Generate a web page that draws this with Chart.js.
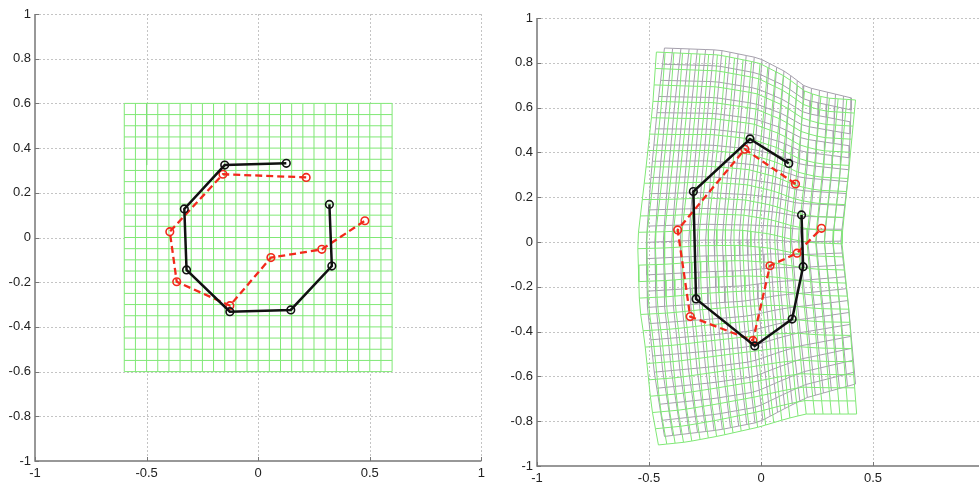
<!DOCTYPE html>
<html lang="en">
<head>
    <meta charset="UTF-8">
    <title>Warped grid comparison</title>
    <script src="https://cdn.jsdelivr.net/npm/chart.js"></script>
    <style>
        html, body { margin: 0; padding: 0; background: #fff; overflow: hidden; }
        #left { position: absolute; left: 0; top: 0; }
        #right { position: absolute; left: 490px; top: 0; }
    </style>
</head>
<body>
    <canvas id="left" width="490" height="486"></canvas>
    <canvas id="right" width="510" height="486"></canvas>
    <script>
        // axes
        const xTicks = [-1, -0.5, 0, 0.5, 1];
        const xTickLabels = ['-1', '-0.5', '0', '0.5', '1'];
        const yTicks = [-1, -0.8, -0.6, -0.4, -0.2, 0, 0.2, 0.4, 0.6, 0.8, 1];
        const yTickLabels = ['-1', '-0.8', '-0.6', '-0.4', '-0.2', '0', '0.2', '0.4', '0.6', '0.8', '1'];

        // left panel: regular mesh lines
        const meshLines = [-0.6, -0.55, -0.5, -0.45, -0.4, -0.35, -0.3, -0.25, -0.2, -0.15, -0.1, -0.05, 0,
                           0.05, 0.1, 0.15, 0.2, 0.25, 0.3, 0.35, 0.4, 0.45, 0.5, 0.55, 0.6];

        const leftBlackX = [0.126, -0.15, -0.331, -0.321, -0.127, 0.146, 0.33, 0.319];
        const leftBlackY = [0.332, 0.324, 0.128, -0.145, -0.332, -0.324, -0.128, 0.148];
        const leftRedX = [0.215, -0.158, -0.396, -0.365, -0.127, 0.057, 0.285, 0.478];
        const leftRedY = [0.269, 0.283, 0.026, -0.198, -0.305, -0.09, -0.053, 0.075];

        // right panel
        const rightBlackX = [0.124, -0.049, -0.302, -0.29, -0.028, 0.139, 0.188, 0.181];
        const rightBlackY = [0.351, 0.46, 0.225, -0.254, -0.464, -0.344, -0.11, 0.121];
        const rightRedX = [0.154, -0.072, -0.372, -0.316, -0.036, 0.04, 0.161, 0.27];
        const rightRedY = [0.259, 0.414, 0.054, -0.333, -0.44, -0.106, -0.05, 0.061];

        // outlines of the warped meshes
        const greenTop = [[-0.467, 0.848], [-0.187, 0.835], [-0.009, 0.799], [0.111, 0.737], [0.2, 0.67], [0.289, 0.643], [0.422, 0.634]];
        const greenBottom = [[-0.458, -0.906], [-0.333, -0.893], [-0.187, -0.866], [-0.009, -0.826], [0.111, -0.79], [0.2, -0.768], [0.427, -0.768]];
        const greenLeft = [[-0.467, 0.848], [-0.484, 0.603], [-0.516, 0.308], [-0.551, 0.009], [-0.542, -0.29], [-0.52, -0.438], [-0.489, -0.737], [-0.458, -0.906]];
        const greenRight = [[0.422, 0.634], [0.391, 0.308], [0.36, 0.009], [0.391, -0.29], [0.427, -0.768]];

        const grayTop = [[-0.431, 0.866], [-0.187, 0.857], [-0.009, 0.821], [0.111, 0.759], [0.2, 0.692], [0.404, 0.643]];
        const grayBottom = [[-0.431, -0.868], [-0.187, -0.839], [-0.009, -0.804], [0.111, -0.741], [0.2, -0.696], [0.422, -0.634]];
        const grayLeft = [[-0.431, 0.866], [-0.462, 0.603], [-0.49, 0.308], [-0.512, 0.009], [-0.507, -0.29], [-0.476, -0.585], [-0.431, -0.868]];
        const grayRight = [[0.404, 0.643], [0.391, 0.308], [0.356, 0.009], [0.391, -0.29], [0.422, -0.634]];

        const GREEN = 'rgb(128,232,118)';
        const GRAY = 'rgb(165,160,172)';
        const RED = '#f2291c';
        const BLACK = '#111';
        const GAP = { x: null, y: null };

        function pts(xs, ys) {
            return xs.map((x, i) => ({ x: x, y: ys[i] }));
        }

        // point on a polyline at fraction t of its length
        function along(poly, t) {
            const seg = [];
            let total = 0;
            for (let i = 1; i < poly.length; i++) {
                const d = Math.hypot(poly[i][0] - poly[i - 1][0], poly[i][1] - poly[i - 1][1]);
                seg.push(d);
                total += d;
            }
            let target = t * total;
            for (let i = 0; i < seg.length; i++) {
                if (target <= seg[i] || i === seg.length - 1) {
                    const f = seg[i] ? Math.min(1, target / seg[i]) : 0;
                    return [poly[i][0] + f * (poly[i + 1][0] - poly[i][0]),
                            poly[i][1] + f * (poly[i + 1][1] - poly[i][1])];
                }
                target -= seg[i];
            }
        }

        // mesh spanned by four outline curves
        function warpedMesh(top, bottom, left, right, n) {
            const tl = top[0], tr = top[top.length - 1];
            const bl = bottom[0], br = bottom[bottom.length - 1];
            const node = [];
            for (let i = 0; i < n; i++) {
                const v = i / (n - 1);
                const L = along(left, v), R = along(right, v);
                const row = [];
                for (let j = 0; j < n; j++) {
                    const u = j / (n - 1);
                    const T = along(top, u), B = along(bottom, u);
                    const p = [0, 1].map(k =>
                        (1 - v) * T[k] + v * B[k] + (1 - u) * L[k] + u * R[k]
                        - ((1 - u) * (1 - v) * tl[k] + u * (1 - v) * tr[k] + (1 - u) * v * bl[k] + u * v * br[k]));
                    row.push({ x: p[0], y: p[1] });
                }
                node.push(row);
            }
            const rows = [], cols = [];
            for (let i = 0; i < n; i++) {
                node[i].forEach(p => rows.push(p));
                rows.push(GAP);
                for (let j = 0; j < n; j++) cols.push(node[j][i]);
                cols.push(GAP);
            }
            return { rows, cols };
        }

        function regularMesh(lines) {
            const rows = [], cols = [];
            const lo = lines[0], hi = lines[lines.length - 1];
            lines.forEach(v => {
                rows.push({ x: lo, y: v }, { x: hi, y: v }, GAP);
                cols.push({ x: v, y: lo }, { x: v, y: hi }, GAP);
            });
            return { rows, cols };
        }

        function meshSets(mesh, color, order) {
            return [mesh.rows, mesh.cols].map(d => ({
                data: d, showLine: true, spanGaps: false, pointRadius: 0,
                borderColor: color, borderWidth: 1, order: order
            }));
        }

        function traceSets(bx, by, rx, ry) {
            return [
                {
                    data: pts(bx, by), showLine: true, borderColor: BLACK, borderWidth: 2.5,
                    pointRadius: 3.8, pointBorderWidth: 1.6, pointBorderColor: BLACK,
                    pointBackgroundColor: 'rgba(255,255,255,0)', order: 0
                },
                {
                    data: pts(rx, ry), showLine: true, borderColor: RED, borderWidth: 2.3, borderDash: [7, 4],
                    pointRadius: 3.8, pointBorderWidth: 1.6, pointBorderColor: RED,
                    pointBackgroundColor: 'rgba(255,255,255,0)', order: 0
                }
            ];
        }

        // dotted grid, axis lines and inward ticks in the old MATLAB style
        const matlabAxes = {
            id: 'matlabAxes',
            beforeDatasetsDraw(chart, args, opts) {
                const { ctx, chartArea: a, scales: { x, y } } = chart;
                ctx.save();
                ctx.strokeStyle = '#c4c4c4';
                ctx.lineWidth = 1;
                ctx.setLineDash([2, 2]);
                xTicks.slice(1).forEach(v => {
                    const px = Math.round(x.getPixelForValue(v)) + 0.5;
                    ctx.beginPath(); ctx.moveTo(px, a.top); ctx.lineTo(px, a.bottom); ctx.stroke();
                });
                yTicks.slice(1).forEach(v => {
                    const py = Math.round(y.getPixelForValue(v)) + 0.5;
                    ctx.beginPath(); ctx.moveTo(a.left, py); ctx.lineTo(a.right, py); ctx.stroke();
                });
                ctx.setLineDash([]);
                // the opaque mesh hides the grid beneath it
                if (opts.under) {
                    const [lo, hi] = opts.under;
                    const x0 = x.getPixelForValue(lo), x1 = x.getPixelForValue(hi);
                    const y0 = y.getPixelForValue(hi), y1 = y.getPixelForValue(lo);
                    ctx.fillStyle = '#fff';
                    ctx.fillRect(x0, y0, x1 - x0, y1 - y0);
                }
                ctx.strokeStyle = '#777';
                ctx.lineWidth = 1.5;
                ctx.beginPath();
                ctx.moveTo(a.left, a.top); ctx.lineTo(a.left, a.bottom); ctx.lineTo(a.right, a.bottom);
                ctx.stroke();
                ctx.lineWidth = 1;
                xTicks.forEach(v => {
                    const px = Math.round(x.getPixelForValue(v)) + 0.5;
                    ctx.beginPath(); ctx.moveTo(px, a.bottom); ctx.lineTo(px, a.bottom - 4); ctx.stroke();
                });
                yTicks.forEach(v => {
                    const py = Math.round(y.getPixelForValue(v)) + 0.5;
                    ctx.beginPath(); ctx.moveTo(a.left, py); ctx.lineTo(a.left + 4, py); ctx.stroke();
                });
                ctx.restore();
            }
        };

        function makeChart(id, datasets, yWidth, xHeight, padding, under) {
            const font = { family: 'Liberation Sans, Arial, sans-serif', size: 13 };
            return new Chart(document.getElementById(id), {
                type: 'scatter',
                data: { datasets: datasets },
                options: {
                    responsive: false,
                    animation: false,
                    layout: { padding: padding },
                    plugins: {
                        legend: { display: false },
                        tooltip: { enabled: false },
                        matlabAxes: { under: under }
                    },
                    scales: {
                        x: {
                            type: 'linear', min: -1, max: 1,
                            grid: { display: false, drawTicks: false },
                            border: { display: false },
                            afterBuildTicks: s => { s.ticks = xTicks.map(v => ({ value: v })); },
                            afterFit: s => { s.height = xHeight; },
                            ticks: {
                                autoSkip: false, maxRotation: 0, padding: 5, color: '#222', font: font,
                                callback: (v, i) => xTickLabels[i]
                            }
                        },
                        y: {
                            type: 'linear', min: -1, max: 1,
                            grid: { display: false, drawTicks: false },
                            border: { display: false },
                            afterBuildTicks: s => { s.ticks = yTicks.map(v => ({ value: v })); },
                            afterFit: s => { s.width = yWidth; },
                            ticks: {
                                autoSkip: false, padding: 4, color: '#222', font: font,
                                callback: (v, i) => yTickLabels[i]
                            }
                        }
                    }
                },
                plugins: [matlabAxes]
            });
        }

        const leftSets = [].concat(
            traceSets(leftBlackX, leftBlackY, leftRedX, leftRedY),
            meshSets(regularMesh(meshLines), GREEN, 1),
            [
                { data: [{ x: -0.6, y: 0 }, { x: -0.525, y: 0 }, GAP, { x: -0.13, y: 0 }, { x: 0.6, y: 0 }],
                  showLine: true, pointRadius: 0, borderColor: '#aaa', borderWidth: 1, order: 1 },
                { data: [{ x: -0.5, y: 0.6 }, { x: -0.5, y: 0.324 }],
                  showLine: true, pointRadius: 0, borderColor: '#5aa85a', borderWidth: 1, order: 1 }
            ]
        );

        const rightSets = [].concat(
            traceSets(rightBlackX, rightBlackY, rightRedX, rightRedY),
            meshSets(warpedMesh(greenTop, greenBottom, greenLeft, greenRight, 25), GREEN, 1),
            meshSets(warpedMesh(grayTop, grayBottom, grayLeft, grayRight, 25), GRAY, 2)
        );

        makeChart('left', leftSets, 35, 25, { top: 14, right: 7, left: 0, bottom: 0 },
                  [meshLines[0], meshLines[meshLines.length - 1]]);
        makeChart('right', rightSets, 47, 20, { top: 18, right: 15, left: 0, bottom: 0 }, null);
    </script>
</body>
</html>
